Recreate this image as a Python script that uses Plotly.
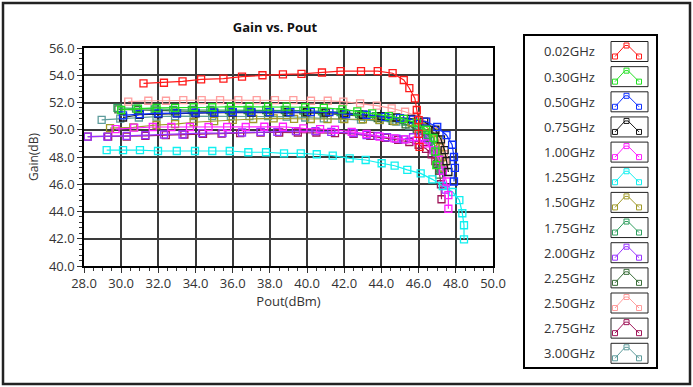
import plotly.graph_objects as go

# ---------------- data ----------------
freq_labels = ["0.02GHz", "0.30GHz", "0.50GHz", "0.75GHz", "1.00GHz", "1.25GHz", "1.50GHz",
               "1.75GHz", "2.00GHz", "2.25GHz", "2.50GHz", "2.75GHz", "3.00GHz"]
colors = ["#ff1a1a", "#22e022", "#1030ff", "#1a1a1a", "#ff20ff", "#10f0f0", "#a09a28",
          "#2e9e5e", "#9933ff", "#3a6e3a", "#ff9e9e", "#a0185a", "#5e9c9c"]

pout_002 = [31.2, 32.3, 33.3, 34.3, 35.5, 36.5, 37.6, 38.7, 39.7, 40.8, 41.8, 42.9, 43.8, 44.6, 45.2, 45.5, 45.8, 45.9, 46.0, 46.0, 46.05]
gain_002 = [53.4, 53.45, 53.55, 53.7, 53.75, 53.9, 54.0, 54.07, 54.1, 54.2, 54.3, 54.3, 54.3, 54.15, 53.65, 53.05, 52.3, 51.45, 50.7, 49.7, 48.75]

pout_030 = [30.0, 30.9, 31.9, 32.9, 33.9, 34.9, 35.9, 36.9, 37.9, 38.9, 39.9, 40.9, 41.9, 42.7, 43.5, 44.4, 45.2, 45.9, 46.4, 46.8, 46.9, 46.95]
gain_030 = [51.45, 51.55, 51.6, 51.6, 51.65, 51.65, 51.7, 51.7, 51.7, 51.7, 51.65, 51.6, 51.5, 51.35, 51.2, 51.0, 50.8, 50.5, 50.0, 49.4, 48.4, 47.4]

pout_050 = [30.1, 31.0, 32.0, 33.0, 34.0, 35.0, 36.0, 37.0, 38.0, 39.1, 40.2, 41.2, 42.1, 43.2, 44.2, 45.0, 45.7, 46.4, 47.0, 47.5, 47.8, 47.9, 47.95, 47.9]
gain_050 = [51.05, 51.15, 51.2, 51.2, 51.25, 51.25, 51.3, 51.3, 51.3, 51.3, 51.3, 51.3, 51.15, 51.1, 50.95, 50.85, 50.75, 50.6, 50.2, 49.6, 48.9, 48.0, 47.2, 46.2]

pout_075 = [30.1, 31.0, 32.0, 33.0, 34.0, 35.0, 36.0, 37.0, 38.0, 39.0, 40.0, 41.0, 42.0, 43.0, 44.0, 44.8, 45.6, 46.3, 46.9, 47.2, 47.4, 47.5, 47.6]
gain_075 = [50.9, 51.1, 51.15, 51.2, 51.2, 51.25, 51.25, 51.25, 51.3, 51.3, 51.3, 51.25, 51.2, 51.1, 51.0, 50.9, 50.8, 50.6, 50.0, 49.3, 48.5, 47.7, 46.9]

pout_100 = [29.7, 30.7, 31.7, 32.7, 33.7, 34.7, 35.7, 36.7, 37.7, 38.7, 39.8, 40.7, 41.5, 42.4, 43.2, 43.9, 44.7, 45.3, 45.9, 46.4, 46.8, 47.1, 47.3, 47.5, 47.6, 47.6]
gain_100 = [50.05, 50.15, 50.2, 50.2, 50.2, 50.2, 50.2, 50.2, 50.22, 50.22, 50.1, 50.05, 50.0, 49.85, 49.7, 49.5, 49.37, 49.3, 49.2, 49.0, 48.5, 47.8, 47.0, 46.2, 45.2, 44.2]

pout_125 = [29.22, 30.1, 31.01, 31.98, 32.99, 33.97, 34.9, 35.84, 36.84, 37.79, 38.76, 39.66, 40.52, 41.38, 42.29, 43.15, 44.01, 44.71, 45.39, 46.11, 46.74, 47.3, 47.83, 48.19, 48.35, 48.44, 48.44]
gain_125 = [48.51, 48.51, 48.51, 48.44, 48.44, 48.44, 48.44, 48.44, 48.35, 48.35, 48.27, 48.27, 48.2, 48.1, 47.9, 47.78, 47.54, 47.36, 47.05, 46.8, 46.36, 45.87, 45.43, 44.84, 43.87, 42.99, 41.96]

pout_150 = [29.4, 30.65, 31.9, 32.9, 33.9, 35.0, 36.0, 37.1, 38.2, 39.3, 40.2, 41.1, 42.0, 43.0, 43.9, 44.7, 45.6, 46.4, 46.8, 47.05, 47.15, 47.25, 47.3]
gain_150 = [50.12, 50.18, 50.35, 50.42, 50.55, 50.64, 50.72, 50.79, 50.84, 50.8, 50.79, 50.79, 50.79, 50.77, 50.72, 50.64, 50.55, 50.22, 49.8, 49.25, 48.7, 48.0, 47.2]

pout_175 = [29.8, 30.8, 31.8, 32.8, 33.8, 34.8, 35.8, 36.8, 37.8, 38.8, 39.8, 40.8, 41.8, 42.8, 43.7, 44.5, 45.3, 46.0, 46.5, 46.9, 47.1, 47.2]
gain_175 = [51.6, 51.55, 51.5, 51.45, 51.45, 51.45, 51.45, 51.45, 51.45, 51.45, 51.4, 51.35, 51.3, 51.15, 51.0, 50.85, 50.6, 50.2, 49.6, 48.8, 47.9, 47.1]

pout_200 = [28.2, 29.25, 30.3, 31.3, 32.3, 33.3, 34.35, 35.45, 36.5, 37.5, 38.4, 39.4, 40.45, 41.3, 42.5, 43.2, 43.8, 44.3, 44.8, 45.2, 45.7, 46.2, 46.5, 47.0, 47.3, 47.45]
gain_200 = [49.5, 49.5, 49.55, 49.6, 49.65, 49.65, 49.75, 49.75, 49.8, 49.85, 49.85, 49.9, 49.9, 49.85, 49.75, 49.6, 49.55, 49.45, 49.35, 49.3, 49.45, 49.45, 49.3, 48.3, 47.0, 45.6]

pout_225 = [29.85, 30.9, 31.9, 32.9, 33.9, 34.9, 35.9, 36.9, 37.9, 38.9, 39.9, 40.9, 41.9, 42.9, 43.8, 44.6, 45.3, 45.9, 46.4, 46.8, 47.0, 47.1]
gain_225 = [51.5, 51.45, 51.4, 51.35, 51.35, 51.35, 51.35, 51.35, 51.3, 51.3, 51.25, 51.2, 51.1, 51.0, 50.85, 50.65, 50.4, 50.0, 49.4, 48.5, 47.5, 46.7]

pout_250 = [30.38, 31.46, 32.41, 33.34, 34.33, 35.32, 36.3, 37.29, 38.27, 39.26, 40.21, 41.11, 41.95, 42.85, 43.75, 44.55, 45.27, 45.9, 46.43, 46.9, 47.2, 47.35, 47.4]
gain_250 = [52.06, 52.13, 52.13, 52.18, 52.18, 52.18, 52.18, 52.18, 52.18, 52.18, 52.13, 52.13, 52.06, 51.94, 51.77, 51.57, 51.32, 51.01, 50.59, 49.9, 49.0, 48.2, 47.6]

pout_275 = [28.2, 29.3, 30.3, 31.3, 32.4, 33.4, 34.4, 35.4, 36.4, 37.5, 38.5, 39.5, 40.5, 41.5, 42.5, 43.4, 44.2, 44.9, 45.5, 46.0, 46.4, 46.7, 46.9, 47.1, 47.2, 47.23]
gain_275 = [49.5, 49.5, 49.5, 49.55, 49.6, 49.65, 49.7, 49.72, 49.75, 49.8, 49.8, 49.8, 49.8, 49.75, 49.7, 49.55, 49.4, 49.25, 49.1, 48.9, 48.6, 48.2, 47.7, 47.0, 46.0, 44.9]

pout_300 = [28.95, 29.95, 30.95, 31.9, 32.9, 33.9, 34.9, 35.9, 36.9, 37.9, 38.9, 39.9, 40.9, 41.9, 42.9, 43.9, 44.8, 45.5, 46.1, 46.6, 46.9, 47.05, 47.15]
gain_300 = [50.72, 50.81, 50.9, 50.96, 51.0, 51.0, 51.0, 51.0, 51.0, 51.0, 50.96, 50.9, 50.84, 50.8, 50.75, 50.7, 50.6, 50.3, 49.9, 49.2, 48.4, 47.6, 47.0]

pouts = [pout_002, pout_030, pout_050, pout_075, pout_100, pout_125, pout_150,
         pout_175, pout_200, pout_225, pout_250, pout_275, pout_300]
gains = [gain_002, gain_030, gain_050, gain_075, gain_100, gain_125, gain_150,
         gain_175, gain_200, gain_225, gain_250, gain_275, gain_300]

x_ticks = [28.0, 30.0, 32.0, 34.0, 36.0, 38.0, 40.0, 42.0, 44.0, 46.0, 48.0, 50.0]
y_ticks = [40.0, 42.0, 44.0, 46.0, 48.0, 50.0, 52.0, 54.0, 56.0]

# ---------------- figure ----------------
W, H = 693, 387
L, R, T, B = 84, 200, 48, 121
PW, PH = W - L - R, H - T - B

def px(xp):
    return (xp - L) / PW

def py(yp):
    return (H - B - yp) / PH

FONT = "Open Sans"
TXT = "#333333"

fig = go.Figure()
for i in reversed(range(len(freq_labels))):
    fig.add_trace(go.Scatter(
        x=pouts[i], y=gains[i], mode="lines+markers", name=freq_labels[i],
        line=dict(color=colors[i], width=1.2),
        marker=dict(symbol="square-open", size=7, color=colors[i], line=dict(width=1.3, color=colors[i])),
        showlegend=False,
    ))

axis_common = dict(
    showline=True, linecolor="black", linewidth=1.5, mirror=True,
    showgrid=True, gridcolor="#3a3a3a", gridwidth=2,
    ticks="outside", ticklen=5, tickcolor="#333333", tickwidth=1,
    tickformat=".1f", tickfont=dict(family=FONT, size=13, color=TXT),
    zeroline=False,
)

fig.update_xaxes(range=[28, 50], tickvals=x_ticks, **axis_common,
                 minor=dict(dtick=0.5, tick0=28, ticks="outside", ticklen=3, tickcolor="#333333", showgrid=False),
                 title=dict(text="Pout(dBm)", font=dict(family=FONT, size=13, color=TXT), standoff=4))
fig.update_yaxes(range=[40, 56], tickvals=y_ticks, **axis_common,
                 minor=dict(dtick=0.4, tick0=40, ticks="outside", ticklen=3, tickcolor="#333333", showgrid=False),
                 title=dict(text="Gain(dB)", font=dict(family=FONT, size=12, color=TXT), standoff=8))

shapes = []
annotations = []

# outer frame
shapes.append(dict(type="rect", xref="paper", yref="paper", x0=px(3), x1=px(690), y0=py(384), y1=py(3),
                   line=dict(color="#222222", width=2.5), fillcolor="rgba(0,0,0,0)", layer="below"))
# legend box
shapes.append(dict(type="rect", xref="paper", yref="paper", x0=px(524), x1=px(657), y0=py(368), y1=py(35),
                   line=dict(color="black", width=2), fillcolor="white"))

for i, lab in enumerate(freq_labels):
    cy = 51.5 + i * 25.15
    annotations.append(dict(xref="paper", yref="paper", x=px(542), y=py(cy), xanchor="left", yanchor="middle",
                            text=lab, showarrow=False, font=dict(family=FONT, size=13, color=TXT)))
    bx0, bx1, by0, by1 = 611, 648, cy - 10, cy + 10
    shapes.append(dict(type="rect", xref="paper", yref="paper", x0=px(bx0), x1=px(bx1), y0=py(by1), y1=py(by0),
                       line=dict(color="#222222", width=1), fillcolor="white"))
    pts = [(bx0 + 4, by0 + 15), (bx0 + 14, by0 + 4), (bx0 + 17, by0 + 4), (bx0 + 28, by0 + 15)]
    path = "M " + " L ".join(f"{px(a)},{py(b)}" for a, b in pts)
    shapes.append(dict(type="path", xref="paper", yref="paper", path=path, line=dict(color=colors[i], width=1)))
    for (a, b) in [pts[0], (bx0 + 15.5, by0 + 4), pts[3]]:
        shapes.append(dict(type="rect", xref="paper", yref="paper", x0=px(a - 2.5), x1=px(a + 2.5),
                           y0=py(b + 2.5), y1=py(b - 2.5), line=dict(color=colors[i], width=1),
                           fillcolor="rgba(0,0,0,0)"))

fig.update_layout(
    width=W, height=H, autosize=False,
    margin=dict(l=L, r=R, t=T, b=B, pad=0),
    paper_bgcolor="white", plot_bgcolor="white",
    title=dict(text="<b>Gain vs. Pout</b>", x=275 / W, xref="container", xanchor="center",
               y=1 - 27 / H, yref="container", yanchor="middle",
               font=dict(family=FONT, size=13, color="#111111")),
    shapes=shapes, annotations=annotations,
)

fig.write_html("out.html", config={"displayModeBar": False},
               post_script="document.body.style.margin='0';document.body.style.padding='0';document.body.style.overflow='hidden';")
